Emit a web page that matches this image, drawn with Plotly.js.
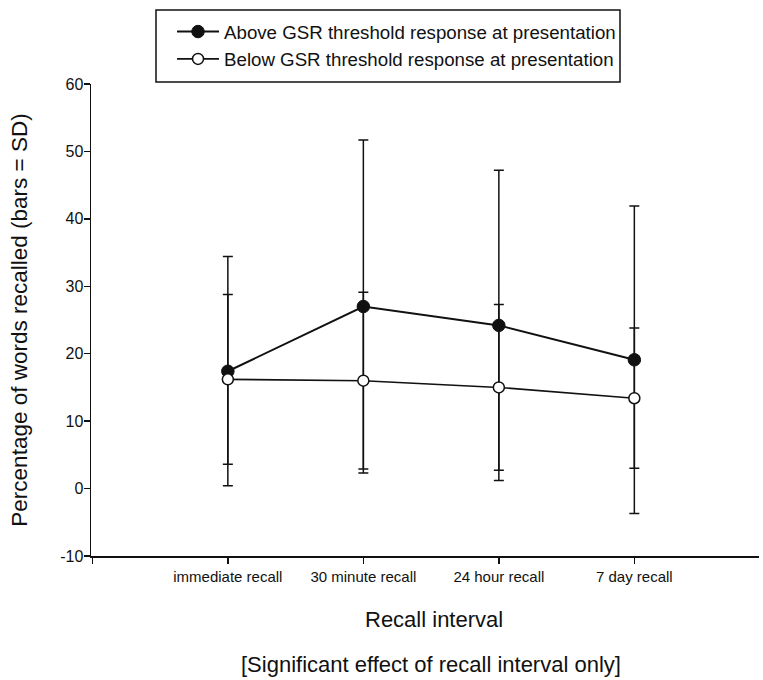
<!DOCTYPE html>
<html>
<head>
<meta charset="utf-8">
<script src="https://cdn.plot.ly/plotly-3.0.1.min.js"></script>
<style>
  html, body { margin: 0; padding: 0; background: #fff; }
  #chart { width: 763px; height: 680px; }
</style>
</head>
<body>
<div id="chart"></div>
<script>
// Recall intervals (category positions 1..4 on the x axis)
const intervals = ['immediate recall', '30 minute recall', '24 hour recall', '7 day recall'];
const positions = [1, 2, 3, 4];

// Mean percentage of words recalled, with standard deviations
const aboveMean = [17.4, 27.0, 24.2, 19.1];
const aboveSD   = [17.0, 24.7, 23.0, 22.8];
const belowMean = [16.2, 16.0, 15.0, 13.4];
const belowSD   = [12.6, 13.1, 12.3, 10.4];

const seriesNames = [
  'Above GSR threshold response at presentation',
  'Below GSR threshold response at presentation'
];

// y-axis ticks, labelled with a plain hyphen for negatives
const yTickVals = [-10, 0, 10, 20, 30, 40, 50, 60];
const yTickText = ['-10', '0', '10', '20', '30', '40', '50', '60'];

const FONT = 'Liberation Sans, Arial, Helvetica, sans-serif';
const INK = '#111';

const errStyle = { type: 'data', symmetric: true, color: INK, thickness: 1.5, width: 5 };

const traces = [
  {
    x: positions, y: aboveMean, name: seriesNames[0],
    type: 'scatter', mode: 'lines+markers',
    line: { color: INK, width: 2 },
    marker: { symbol: 'circle', size: 12.5, color: INK, line: { color: INK, width: 1 } },
    error_y: Object.assign({ array: aboveSD }, errStyle),
    cliponaxis: false
  },
  {
    x: positions, y: belowMean, name: seriesNames[1],
    type: 'scatter', mode: 'lines+markers',
    line: { color: INK, width: 1.6 },
    marker: { symbol: 'circle', size: 11, color: '#fff', line: { color: INK, width: 1.5 } },
    error_y: Object.assign({ array: belowSD }, errStyle),
    cliponaxis: false
  }
];

const layout = {
  width: 763, height: 680,
  margin: { l: 91, r: 4, t: 84, b: 124 },
  paper_bgcolor: '#fff', plot_bgcolor: '#fff',
  font: { family: FONT, color: INK, size: 15 },
  showlegend: true,
  legend: {
    x: 0.1213, y: 1.1506, xanchor: 'left', yanchor: 'top',
    bgcolor: 'rgba(0,0,0,0)', borderwidth: 0,
    font: { family: FONT, size: 18.7, color: INK },
    itemwidth: 42, tracegroupgap: 0
  },
  xaxis: {
    range: [-0.01, 4.92],
    tickmode: 'array',
    tickvals: [0].concat(positions),
    ticktext: [''].concat(intervals),
    ticks: 'outside', ticklen: 6, tickwidth: 1.5, tickcolor: INK,
    showline: true, linecolor: INK, linewidth: 1.5,
    showgrid: false, zeroline: false,
    tickfont: { family: FONT, size: 15, color: INK },
    automargin: false, fixedrange: true
  },
  yaxis: {
    range: [-10, 60],
    tickmode: 'array', tickvals: yTickVals, ticktext: yTickText,
    ticks: 'outside', ticklen: 6, tickwidth: 1.5, tickcolor: INK,
    ticklabelstandoff: -3,
    showline: true, linecolor: INK, linewidth: 1.5,
    showgrid: false, zeroline: false,
    tickfont: { family: FONT, size: 16, color: INK },
    title: { text: 'Percentage of words recalled (bars = SD)', font: { family: FONT, size: 22.5, color: INK }, standoff: 26 },
    automargin: false, fixedrange: true
  },
  shapes: [
    {
      type: 'rect', xref: 'paper', yref: 'paper',
      x0: 0.0973, x1: 0.7919, y0: 1.0042, y1: 1.1568,
      line: { color: INK, width: 1.5 }, fillcolor: 'rgba(0,0,0,0)'
    }
  ],
  annotations: [
    {
      // x-axis title, centred under the full axis line
      text: 'Recall interval',
      xref: 'paper', yref: 'paper', x: 0.513, y: -0.1335,
      xanchor: 'center', yanchor: 'middle', showarrow: false,
      font: { family: FONT, size: 22, color: INK }
    },
    {
      text: '[Significant effect of recall interval only]',
      xref: 'paper', yref: 'paper', x: 0.509, y: -0.2309,
      xanchor: 'center', yanchor: 'middle', showarrow: false,
      font: { family: FONT, size: 22, color: INK }
    }
  ]
};

Plotly.newPlot('chart', traces, layout, { displayModeBar: false, staticPlot: true });
</script>
</body>
</html>
